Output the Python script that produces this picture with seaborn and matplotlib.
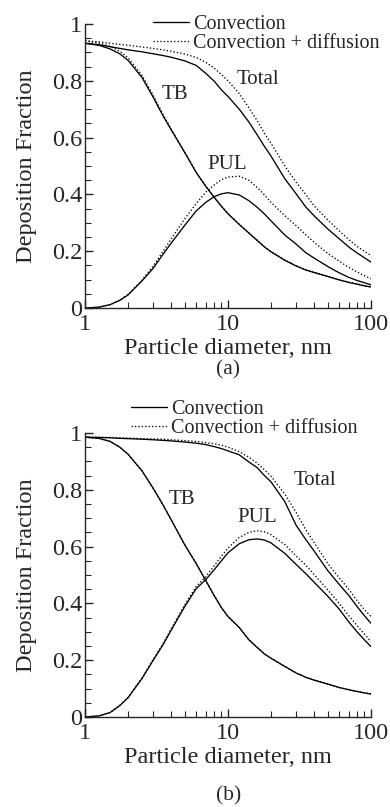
import matplotlib
matplotlib.use('Agg')
import matplotlib.pyplot as plt
import matplotlib.ticker as mticker
from matplotlib.lines import Line2D
import seaborn as sns

# particle diameter, nm (shared grid for both panels)
diam = [1, 1.25, 1.5, 1.75, 2, 2.5, 3, 3.5, 4, 5, 6, 7, 8, 9, 10,
        12, 14, 16, 18, 20, 25, 30, 35, 40, 50, 60, 70, 80, 90, 100]

# panel (a)
a_tb_conv = [0.932, 0.925, 0.912, 0.895, 0.872, 0.812, 0.742, 0.678, 0.628, 0.546,
             0.477, 0.428, 0.390, 0.358, 0.332, 0.294, 0.264, 0.238, 0.215, 0.198,
             0.168, 0.148, 0.134, 0.125, 0.111, 0.099, 0.090, 0.084, 0.078, 0.074]
a_tb_diff = [0.940, 0.933, 0.921, 0.904, 0.881, 0.820, 0.749, 0.683, 0.631, 0.548,
             0.478, 0.429, 0.391, 0.359, 0.333, 0.295, 0.265, 0.239, 0.216, 0.199,
             0.169, 0.149, 0.135, 0.126, 0.112, 0.100, 0.091, 0.085, 0.079, 0.075]
a_pul_conv = [0.0, 0.003, 0.012, 0.027, 0.046, 0.095, 0.140, 0.188, 0.228, 0.292,
              0.342, 0.372, 0.392, 0.402, 0.406, 0.398, 0.378, 0.355, 0.331, 0.307,
              0.257, 0.225, 0.195, 0.176, 0.146, 0.124, 0.108, 0.097, 0.089, 0.082]
a_pul_diff = [0.0, 0.003, 0.012, 0.028, 0.048, 0.098, 0.148, 0.198, 0.243, 0.315,
              0.368, 0.408, 0.433, 0.452, 0.461, 0.464, 0.450, 0.425, 0.398, 0.372,
              0.325, 0.290, 0.258, 0.232, 0.192, 0.165, 0.143, 0.127, 0.114, 0.103]
a_tot_conv = [0.932, 0.927, 0.920, 0.914, 0.909, 0.902, 0.895, 0.889, 0.883, 0.870,
              0.854, 0.826, 0.799, 0.768, 0.745, 0.700, 0.655, 0.610, 0.569, 0.535,
              0.455, 0.402, 0.356, 0.325, 0.278, 0.244, 0.215, 0.194, 0.177, 0.162]
a_tot_diff = [0.941, 0.937, 0.932, 0.928, 0.925, 0.919, 0.914, 0.909, 0.904, 0.894,
              0.882, 0.865, 0.845, 0.822, 0.800, 0.755, 0.705, 0.660, 0.615, 0.580,
              0.500, 0.443, 0.400, 0.360, 0.310, 0.272, 0.241, 0.217, 0.200, 0.185]

# panel (b)
b_tb_conv = [0.985, 0.981, 0.970, 0.950, 0.925, 0.867, 0.805, 0.748, 0.695, 0.605,
             0.540, 0.480, 0.428, 0.385, 0.354, 0.315, 0.272, 0.245, 0.222, 0.207,
             0.178, 0.155, 0.140, 0.130, 0.116, 0.104, 0.096, 0.090, 0.085, 0.081]
b_tb_diff = [0.985, 0.981, 0.970, 0.950, 0.925, 0.867, 0.805, 0.748, 0.695, 0.605,
             0.540, 0.480, 0.428, 0.385, 0.354, 0.315, 0.272, 0.245, 0.222, 0.207,
             0.178, 0.155, 0.140, 0.130, 0.116, 0.104, 0.096, 0.090, 0.085, 0.081]
b_pul_conv = [0.0, 0.004, 0.016, 0.040, 0.068, 0.135, 0.200, 0.253, 0.305, 0.390,
              0.452, 0.484, 0.518, 0.550, 0.578, 0.610, 0.624, 0.627, 0.623, 0.613,
              0.576, 0.537, 0.505, 0.475, 0.425, 0.380, 0.335, 0.300, 0.272, 0.248]
b_pul_diff = [0.0, 0.004, 0.016, 0.041, 0.069, 0.137, 0.203, 0.257, 0.310, 0.396,
              0.460, 0.494, 0.532, 0.566, 0.595, 0.632, 0.650, 0.656, 0.652, 0.642,
              0.607, 0.567, 0.535, 0.502, 0.447, 0.400, 0.357, 0.322, 0.292, 0.266]
b_tot_conv = [0.985, 0.984, 0.983, 0.981, 0.980, 0.978, 0.976, 0.974, 0.972, 0.968,
              0.964, 0.959, 0.952, 0.945, 0.937, 0.923, 0.898, 0.878, 0.850, 0.828,
              0.758, 0.675, 0.625, 0.585, 0.515, 0.467, 0.428, 0.389, 0.357, 0.330]
b_tot_diff = [0.985, 0.985, 0.984, 0.983, 0.982, 0.980, 0.979, 0.978, 0.976, 0.973,
              0.970, 0.966, 0.962, 0.957, 0.950, 0.934, 0.915, 0.894, 0.870, 0.848,
              0.785, 0.720, 0.660, 0.615, 0.540, 0.490, 0.450, 0.410, 0.378, 0.354]

legend_labels = ['Convection', 'Convection + diffusion']
tick_labels_y = ['0', '0.2', '0.4', '0.6', '0.8', '1']

sns.set_style('ticks')
plt.rcParams['font.family'] = ['Liberation Serif', 'DejaVu Serif']
plt.rcParams['axes.linewidth'] = 1.0

DOT = (0, (1.0, 1.6))
LW = 0.95

fig = plt.figure(figsize=(3.9, 8.07), dpi=100)
ax_a = fig.add_axes([0.218, 0.6183, 0.733, 0.352])
ax_b = fig.add_axes([0.218, 0.1115, 0.733, 0.352])


def draw_panel(ax, conv, diff, notes, xlab_y):
    for vals in conv:
        sns.lineplot(x=diam, y=vals, ax=ax, color='black', lw=LW, linestyle='-')
    for vals in diff:
        sns.lineplot(x=diam, y=vals, ax=ax, color='black', lw=LW, linestyle=DOT)
    ax.set_xscale('log')
    ax.set_xlim(1, 100)
    ax.set_ylim(0, 1)
    ax.xaxis.set_major_locator(mticker.LogLocator(base=10))
    ax.xaxis.set_minor_locator(mticker.LogLocator(base=10, subs=range(2, 10)))
    ax.xaxis.set_major_formatter(mticker.FuncFormatter(lambda v, p: f'{v:g}'))
    ax.xaxis.set_minor_formatter(mticker.NullFormatter())
    ax.yaxis.set_minor_locator(mticker.MultipleLocator(0.05))
    ax.set_yticks([0, 0.2, 0.4, 0.6, 0.8, 1.0])
    ax.set_yticklabels(tick_labels_y)
    ax.tick_params(which='major', direction='in', length=6, width=1.0,
                   labelsize=17.5)
    ax.tick_params(axis='x', which='major', pad=4)
    ax.tick_params(axis='y', which='major', pad=2)
    ax.tick_params(which='minor', direction='in', length=4, width=0.8)
    sns.despine(ax=ax)
    ax.set_xlabel('Particle diameter, nm', fontsize=17.5, va='baseline')
    ax.xaxis.set_label_coords(0.5, xlab_y)
    ax.set_ylabel('Deposition Fraction', fontsize=17.5, labelpad=11)
    for txt, x, y in notes:
        ax.text(x, y, txt, ha='center', va='center', fontsize=15)


draw_panel(ax_a, [a_tb_conv, a_pul_conv, a_tot_conv],
           [a_tb_diff, a_pul_diff, a_tot_diff],
           [('TB', 4.26, 0.75), ('Total', 16.1, 0.806), ('PUL', 9.8, 0.505)],
           -46 / 284.3)
draw_panel(ax_b, [b_tb_conv, b_pul_conv, b_tot_conv],
           [b_tb_diff, b_pul_diff, b_tot_diff],
           [('TB', 4.74, 0.764), ('Total', 40.6, 0.831), ('PUL', 16.0, 0.703)],
           -46 / 284.3)

handles = [Line2D([], [], color='black', lw=LW, linestyle='-'),
           Line2D([], [], color='black', lw=LW, linestyle=DOT)]
for ax, anchor in [(ax_a, (0.392, 0.982)), (ax_b, (0.336, 0.505))]:
    ax.legend(handles=handles, labels=legend_labels, loc='upper left',
              bbox_to_anchor=anchor, bbox_transform=fig.transFigure,
              frameon=False, fontsize=14.5, handlelength=1.8, handletextpad=0.2,
              labelspacing=0.0, borderpad=0, borderaxespad=0)

fig.text(0.585, 1 - 374 / 807, '(a)', ha='center', va='baseline', fontsize=15.5)
fig.text(0.585, 1 - 800 / 807, '(b)', ha='center', va='baseline', fontsize=15.5)

fig.savefig('out.png', dpi=100)
